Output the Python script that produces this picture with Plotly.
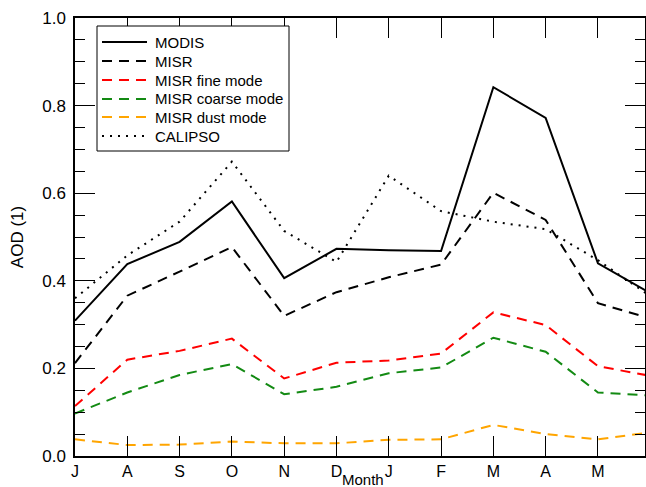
import plotly.graph_objects as go

months = ["J", "A", "S", "O", "N", "D", "J", "F", "M", "A", "M", "J"]
x_idx = list(range(len(months)))

modis = [0.309, 0.438, 0.489, 0.581, 0.406, 0.473, 0.470, 0.468, 0.842, 0.772, 0.440, 0.372]
misr = [0.212, 0.366, 0.421, 0.477, 0.320, 0.374, 0.408, 0.437, 0.601, 0.539, 0.349, 0.314]
misr_fine = [0.114, 0.220, 0.240, 0.268, 0.177, 0.213, 0.218, 0.234, 0.328, 0.299, 0.205, 0.183]
misr_coarse = [0.097, 0.145, 0.185, 0.210, 0.141, 0.158, 0.189, 0.202, 0.270, 0.238, 0.145, 0.138]
misr_dust = [0.038, 0.025, 0.026, 0.033, 0.029, 0.029, 0.037, 0.038, 0.071, 0.050, 0.038, 0.054]
calipso = [0.360, 0.458, 0.535, 0.672, 0.514, 0.443, 0.640, 0.559, 0.535, 0.518, 0.447, 0.365]

tick_labels = months[:11]

series = [
    ("MODIS", modis, "black", "solid"),
    ("MISR", misr, "black", "10px,7px"),
    ("MISR fine mode", misr_fine, "#ff0000", "10px,7px"),
    ("MISR coarse mode", misr_coarse, "#138a13", "10px,7px"),
    ("MISR dust mode", misr_dust, "#ffa500", "10px,7px"),
    ("CALIPSO", calipso, "black", "2px,6px"),
]

font_family = "Liberation Sans, Arial, Helvetica, sans-serif"

# plot area in pixels (for legend placement)
L, R, T, B = 75, 645, 18, 456
W = 646
H = 487


def px(x):
    return (x - L) / (R - L)


def py(y):
    return (B - y) / (B - T)


fig = go.Figure()
for name, vals, color, dash in series:
    fig.add_trace(go.Scatter(x=x_idx, y=vals, mode="lines", name=name,
                             line=dict(color=color, width=2, dash=dash),
                             showlegend=False))

# custom legend box
shapes = [dict(type="rect", xref="paper", yref="paper",
               x0=px(97), x1=px(289), y0=py(151), y1=py(26),
               line=dict(color="black", width=1), fillcolor="white", layer="above")]
annotations = []
row_y = [42, 61, 80, 99, 117, 136]
for (name, vals, color, dash), ry in zip(series, row_y):
    shapes.append(dict(type="line", xref="paper", yref="paper",
                       x0=px(102), x1=px(147), y0=py(ry), y1=py(ry),
                       line=dict(color=color, width=2, dash=dash), layer="above"))
    annotations.append(dict(xref="paper", yref="paper", x=px(153), y=py(ry),
                            xanchor="left", yanchor="middle", text=name, showarrow=False,
                            font=dict(size=15, family=font_family, color="black")))

# x-axis title at the bottom edge
annotations.append(dict(xref="paper", yref="paper", x=px(363), y=py(490),
                        xanchor="center", yanchor="bottom", text="Month", showarrow=False,
                        font=dict(size=15, family=font_family, color="black")))

fig.update_layout(
    width=W, height=H,
    margin=dict(l=L, r=W - R, t=T, b=H - B, autoexpand=False),
    paper_bgcolor="white", plot_bgcolor="white",
    font=dict(family=font_family, color="black", size=16),
    showlegend=False,
    shapes=shapes,
    annotations=annotations,
)

fig.update_xaxes(
    range=[0, 10.9], tickmode="array", tickvals=list(range(11)), ticktext=tick_labels,
    ticks="inside", ticklen=20, tickwidth=1, tickcolor="black",
    showline=True, linecolor="black", linewidth=1.5, mirror="ticks",
    showgrid=False, zeroline=False, automargin=False,
    tickfont=dict(size=16),
)
fig.update_yaxes(
    range=[0, 1.0], tickmode="array", tickvals=[0, 0.2, 0.4, 0.6, 0.8, 1.0],
    ticktext=["0.0", "0.2", "0.4", "0.6", "0.8", "1.0"],
    ticks="inside", ticklen=20, tickwidth=1, tickcolor="black",
    minor=dict(dtick=0.05, ticks="inside", ticklen=10, tickwidth=1, tickcolor="black"),
    showline=True, linecolor="black", linewidth=1.5, mirror="ticks",
    showgrid=False, zeroline=False, automargin=False,
    tickfont=dict(size=17), ticklabelstandoff=4,
    title=dict(text="AOD (1)", font=dict(size=17), standoff=14),
)

fig.write_html("out.html")
